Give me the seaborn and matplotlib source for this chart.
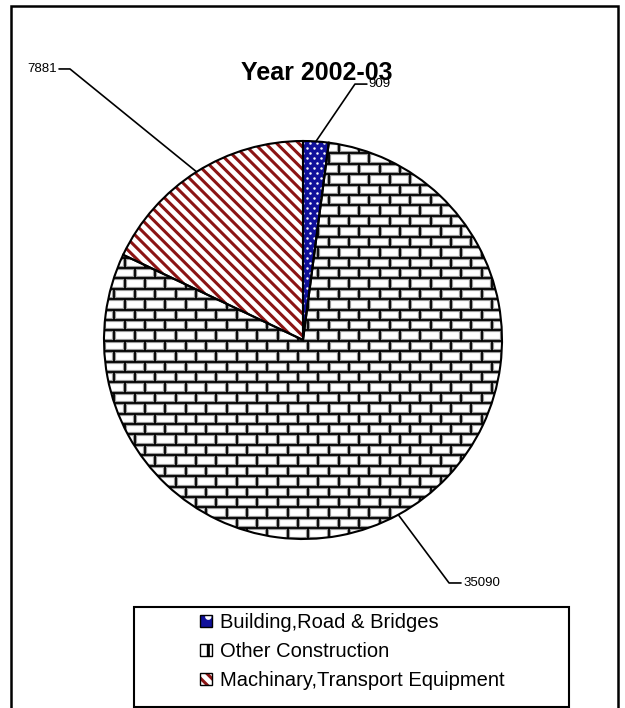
import numpy as np
import matplotlib
matplotlib.use('Agg')
import matplotlib.pyplot as plt
from matplotlib.patches import Patch, Rectangle
from matplotlib.collections import LineCollection
import seaborn as sns

sns.set_style("white")
plt.rcParams['font.family'] = ['Liberation Sans', 'DejaVu Sans']
plt.rcParams['text.color'] = 'black'
plt.rcParams['hatch.linewidth'] = 2.2

# ── Data ───────────────────────────────────────────────────────────────────
title = 'Year 2002-03'
categories = ['Building,Road & Bridges', 'Other Construction', 'Machinary,Transport Equipment']
values = [909, 35090, 7881]

# ── Styles ─────────────────────────────────────────────────────────────────
face_colors = ['#10109a', 'white', 'white']
hatch_colors = ['white', 'black', '#8b1414']
hatches = ['', '', '\\\\\\']
# leader elbow / label position per slice (axes data units, radius = 1)
elbows = [(0.261, 1.286), (0.734, -1.221), (-1.171, 1.362)]
label_dx = [0.06, 0.06, -0.055]

fig = plt.figure(figsize=(6.25, 7.08), dpi=100)
ax = fig.add_axes([104/625, 1 - 539/708, 398/625, 398/708])

wedges, _ = ax.pie(values, startangle=90, counterclock=False,
                   wedgeprops=dict(linewidth=0))
for w, fc, hc, h in zip(wedges, face_colors, hatch_colors, hatches):
    w.set_facecolor(fc)
    w.set_edgecolor(hc)
    w.set_hatch(h)

# white dot pattern for "Building,Road & Bridges"
px = 1 / 199
gx, gy = [], []
for i, y in enumerate(np.arange(-1.02, 1.02, 5 * px)):
    off = (i % 2) * 3.5 * px
    for x in np.arange(-1.02 + off, 1.02, 7 * px):
        gx.append(x)
        gy.append(y)
dots = ax.scatter(gx, gy, s=3.2, marker='o', color='white', linewidths=0, zorder=2)
dots.set_clip_path(wedges[0])

# brick pattern for "Other Construction"
bw, bh = 0.1025, 0.0523
segs = []
for i, y in enumerate(np.arange(-1.05, 1.05, bh)):
    segs.append([(-1.05, y), (1.05, y)])
    off = (i % 2) * bw / 2
    for x in np.arange(-1.05 + off, 1.05, bw):
        segs.append([(x, y), (x, y + bh)])
for col, lw in [('#999999', 3.0), ('black', 1.3)]:
    lc = LineCollection(segs, colors=col, linewidths=lw, zorder=2)
    ax.add_collection(lc)
    lc.set_clip_path(wedges[1])

# outlines
ax.pie(values, startangle=90, counterclock=False,
       wedgeprops=dict(fill=False, edgecolor='black', linewidth=1.5, zorder=3))

# leader lines + value labels
for w, v, (ex, ey), dx in zip(wedges, values, elbows, label_dx):
    th = np.deg2rad((w.theta1 + w.theta2) / 2)
    sx, sy = np.cos(th), np.sin(th)
    ax.plot([sx, ex, ex + dx], [sy, ey, ey], color='black', lw=1.2,
            clip_on=False, zorder=4)
    ax.text(ex + dx + np.sign(dx) * 0.01, ey, str(v), fontsize=9.5,
            ha='left' if dx > 0 else 'right', va='center', zorder=5)

ax.set_xlim(-1, 1)
ax.set_ylim(-1, 1)
ax.set_aspect('equal')
ax.axis('off')

fig.text(317/625, 1 - 73/708, title, fontsize=18, fontweight='bold',
         ha='center', va='center')

# legend
legend_hatches = ['.', '+', hatches[2]]
handles = []
for fc, hc, h in zip(face_colors, hatch_colors, legend_hatches):
    handles.append((Patch(facecolor=fc, edgecolor=hc, hatch=h, linewidth=0),
                    Patch(fill=False, edgecolor='black', linewidth=1.0)))
fig.legend(handles, categories, loc='upper left',
           bbox_to_anchor=(200/625, 1 - 613/708), frameon=False,
           fontsize=14.5, handlelength=0.6, handleheight=0.6,
           handletextpad=0.4, labelspacing=0.5, borderpad=0, borderaxespad=0)

# frames
fig.add_artist(Rectangle((134/625, 1 - 707/708), 435/625, 100/708,
                         transform=fig.transFigure, fill=False,
                         edgecolor='black', linewidth=1.5))
fig.add_artist(Rectangle((11/625, -0.01), 607/625, 1.01 - 6/708,
                         transform=fig.transFigure, fill=False,
                         edgecolor='black', linewidth=1.8))

fig.savefig('out.png', dpi=100)
